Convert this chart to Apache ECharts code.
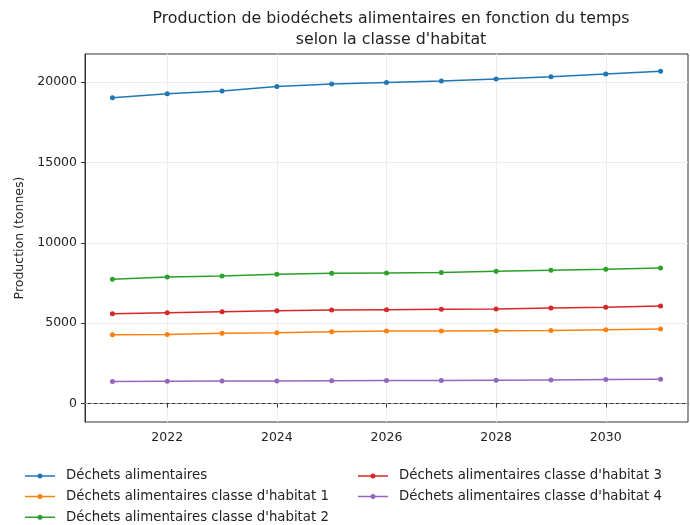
<!DOCTYPE html>
<html lang="fr">
<head>
    <meta charset="UTF-8"/>
    <title>Production de biodéchets</title>
    <script src="https://cdn.jsdelivr.net/npm/echarts@6/dist/echarts.min.js"></script>
    <style>
        html, body { margin: 0; padding: 0; background: #fff; }
        #main { width: 690px; height: 525px; }
    </style>
</head>
<body>
<div id="main"></div>
<script>
    // années (axe x)
    var annees = [2021, 2022, 2023, 2024, 2025, 2026, 2027, 2028, 2029, 2030, 2031];
    var ticksX = [2022, 2024, 2026, 2028, 2030];
    var ticksY = [0, 5000, 10000, 15000, 20000];

    // valeurs (tonnes)
    var dechetsTotal = [19030, 19280, 19450, 19720, 19890, 19980, 20070, 20200, 20340, 20510, 20680];
    var classe1 = [4280, 4300, 4365, 4405, 4470, 4510, 4515, 4530, 4545, 4590, 4630];
    var classe2 = [7730, 7875, 7940, 8040, 8100, 8125, 8150, 8230, 8290, 8350, 8440];
    var classe3 = [5590, 5650, 5715, 5780, 5820, 5840, 5860, 5880, 5945, 5990, 6070];
    var classe4 = [1370, 1385, 1395, 1405, 1420, 1430, 1440, 1455, 1470, 1490, 1510];

    var noms = [
        'Déchets alimentaires',
        "Déchets alimentaires classe d'habitat 1",
        "Déchets alimentaires classe d'habitat 2",
        "Déchets alimentaires classe d'habitat 3",
        "Déchets alimentaires classe d'habitat 4"
    ];
    var couleurs = ['#1f77b4', '#ff7f0e', '#2ca02c', '#d62728', '#9467bd'];
    var valeurs = [dechetsTotal, classe1, classe2, classe3, classe4];

    var police = 'DejaVu Sans';

    function paires(vals) {
        var out = [];
        for (var i = 0; i < annees.length; i++) {
            out.push([annees[i], vals[i]]);
        }
        return out;
    }

    var series = [];
    for (var s = 0; s < valeurs.length; s++) {
        var serie = {
            name: noms[s],
            type: 'line',
            data: paires(valeurs[s]),
            symbol: 'circle',
            symbolSize: 5,
            showSymbol: true,
            color: couleurs[s],
            lineStyle: { width: 1.5, color: couleurs[s] },
            itemStyle: { color: couleurs[s] },
            animation: false,
            z: 3
        };
        if (s === 0) {
            // ligne horizontale à 0
            serie.markLine = {
                silent: true,
                symbol: 'none',
                label: { show: false },
                lineStyle: { color: '#9a9a9a', type: [3, 3], width: 1 },
                data: [{ yAxis: 0 }]
            };
        }
        series.push(serie);
    }

    // icône de légende : trait + point plein
    var iconeLigne = 'path://M0,1.75H30V3.25H0Z M12.5,2.5A2.5,2.5,0,1,1,17.5,2.5A2.5,2.5,0,1,1,12.5,2.5Z';

    var legendeCommune = {
        orient: 'vertical',
        padding: 0,
        itemWidth: 30,
        itemHeight: 5,
        itemGap: 6.6,
        height: 80,
        icon: iconeLigne,
        textStyle: { fontFamily: police, fontSize: 13.3, color: '#222', lineHeight: 14, padding: [0, 0, 0, 6] },
        top: 469
    };

    var myChart = echarts.init(document.getElementById('main'), null, { renderer: 'canvas' });
    myChart.setOption({
        animation: false,
        backgroundColor: '#fff',
        title: {
            text: 'Production de biodéchets alimentaires en fonction du temps\nselon la classe d\'habitat',
            left: 386,
            top: 3,
            textAlign: 'center',
            textStyle: { fontFamily: police, fontSize: 15.8, fontWeight: 'normal', color: '#222', lineHeight: 21.5 }
        },
        legend: [
            Object.assign({}, legendeCommune, { left: 25, data: noms.slice(0, 3) }),
            Object.assign({}, legendeCommune, { left: 358, data: noms.slice(3) })
        ],
        grid: {
            left: 85, right: 2, top: 54, bottom: 103,
            show: true, borderColor: '#333', borderWidth: 1, containLabel: false
        },
        xAxis: {
            type: 'value',
            min: 2020.5,
            max: 2031.5,
            axisLine: { show: true, lineStyle: { color: '#333', width: 1 } },
            axisTick: { show: true, length: 4, customValues: ticksX, lineStyle: { color: '#333' } },
            axisLabel: {
                customValues: ticksX, margin: 9,
                fontFamily: police, fontSize: 12.5, color: '#222',
                formatter: function (v) { return String(v); }
            },
            splitLine: { show: true, lineStyle: { color: '#ededed', width: 1 } }
        },
        yAxis: {
            type: 'value',
            min: -1150,
            max: 21750,
            name: 'Production (tonnes)',
            nameLocation: 'middle',
            nameGap: 58,
            nameTextStyle: { fontFamily: police, fontSize: 12.5, color: '#222' },
            axisLine: { show: true, lineStyle: { color: '#333', width: 1 } },
            axisTick: { show: true, length: 4, customValues: ticksY, lineStyle: { color: '#333' } },
            axisLabel: {
                customValues: ticksY, margin: 8,
                fontFamily: police, fontSize: 12.5, color: '#222',
                formatter: function (v) { return String(v); }
            },
            splitLine: { show: true, lineStyle: { color: '#ededed', width: 1 } }
        },
        series: series
    });
</script>
</body>
</html>
